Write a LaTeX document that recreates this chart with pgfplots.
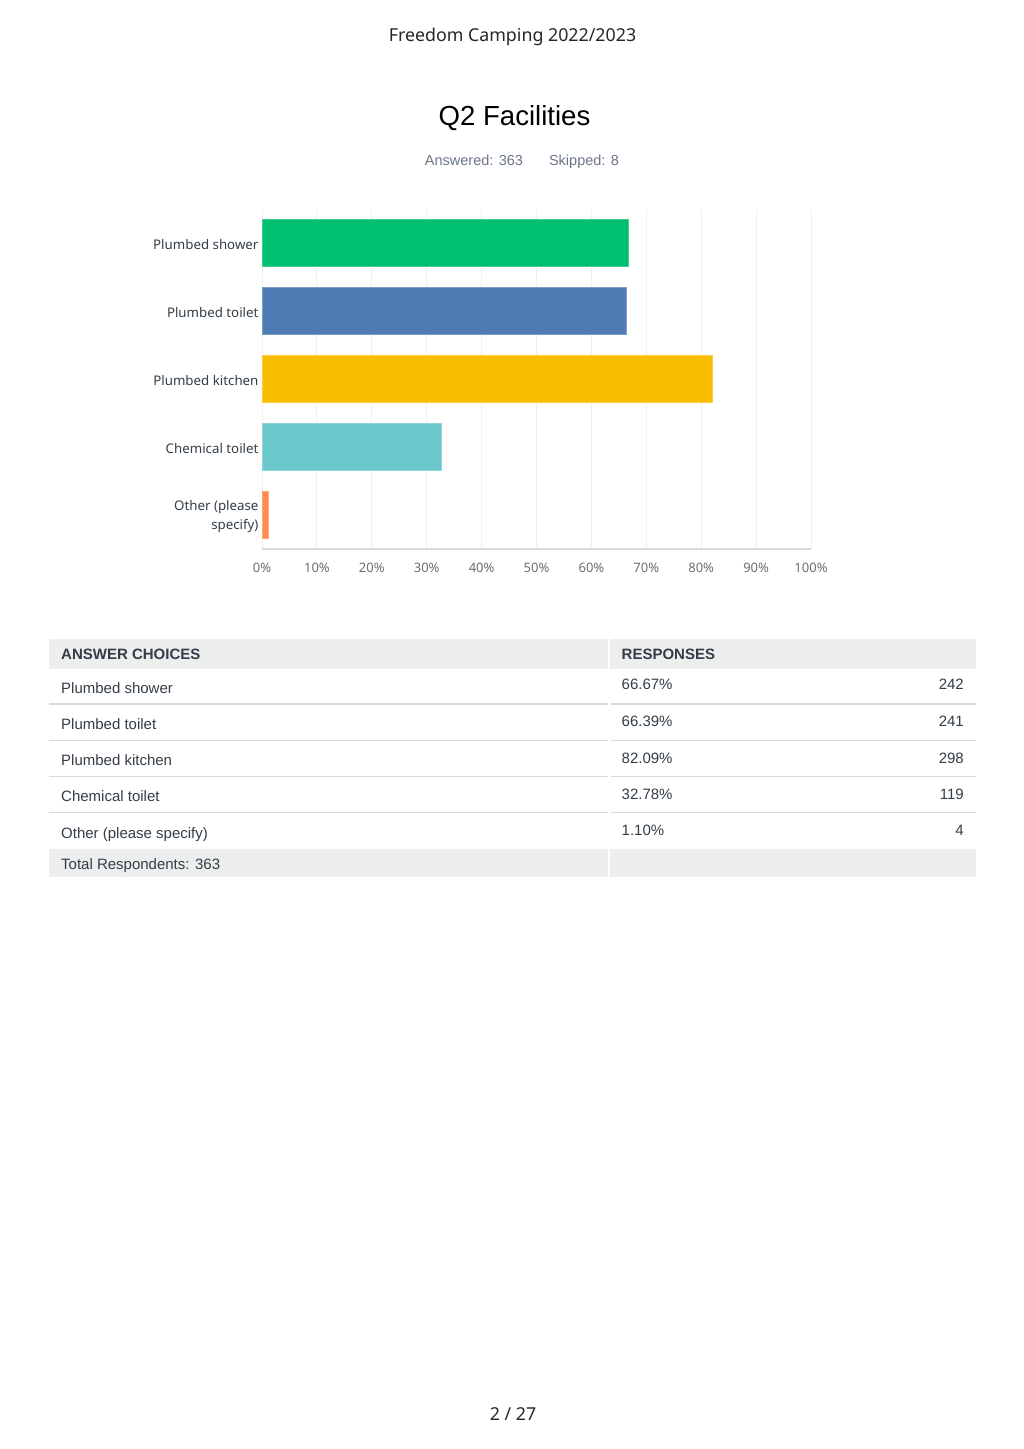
\documentclass[border=0pt]{standalone}
\usepackage{fontspec}
\setmainfont{Liberation Sans}
\newfontfamily\notosans{Noto Sans}
\usepackage{pgfplots}
\pgfplotsset{compat=1.18}

\definecolor{smgreen}{HTML}{00BF6F}
\definecolor{smblue}{HTML}{507CB6}
\definecolor{smyellow}{HTML}{F9BE00}
\definecolor{smteal}{HTML}{6BC8CD}
\definecolor{smorange}{HTML}{FF8B4F}
\definecolor{darktext}{HTML}{333E48}
\definecolor{subtext}{HTML}{6B7787}
\definecolor{ticktext}{HTML}{6A6F75}
\definecolor{gridc}{HTML}{F0F0F0}
\definecolor{axisc}{HTML}{D9D9D9}
\definecolor{bandc}{HTML}{EDEEEE}
\definecolor{rulec}{HTML}{DADADA}

\begin{document}
\begin{tikzpicture}[x=1pt,y=1pt]
\path[use as bounding box, fill=white] (0,0) rectangle (1024,1449);

% page header, title, footer
\node[anchor=base, font=\notosans\fontsize{17.8}{20}\selectfont, text=black!85]
  at (512.5,1407.3) {Freedom Camping 2022/2023};
\node[anchor=base, font=\fontsize{27.6}{30}\selectfont, text=black]
  at (514.5,1323.5) {Q2 Facilities};
\node[anchor=base, font=\fontsize{14.5}{17}\selectfont, text=subtext]
  at (474,1283.3) {Answered: 363};
\node[anchor=base, font=\fontsize{14.5}{17}\selectfont, text=subtext]
  at (584,1283.3) {Skipped: 8};
\node[anchor=base, font=\notosans\fontsize{17.8}{20}\selectfont, text=black!85]
  at (513,28) {2 / 27};

\begin{axis}[
    at={(262pt,900pt)}, anchor=south west,
    scale only axis, width=549pt, height=340pt,
    xmin=0, xmax=100, ymin=-0.5, ymax=4.5,
    y dir=reverse,
    xbar, bar width=46.5pt, bar shift=0pt,
    xtick={0,10,...,100},
    xticklabels={0\%,10\%,20\%,30\%,40\%,50\%,60\%,70\%,80\%,90\%,100\%},
    ytick={0,1,2,3,4},
    yticklabels={Plumbed shower,Plumbed toilet,Plumbed kitchen,Chemical toilet,{Other (please\\specify)}},
    yticklabel style={align=right, font=\notosans\fontsize{13.3}{18.5}\selectfont, text=darktext, yshift=-1.5pt},
    xticklabel style={font=\notosans\fontsize{13}{15}\selectfont, text=ticktext, yshift=-11pt},
    major tick length=0pt,
    xmajorgrids, grid style={draw=gridc, line width=1pt},
    axis line style={draw=none},
    clip=false,
]
\addplot[fill=smgreen, draw=smgreen!75!white, line width=1pt] coordinates {(66.67,0)};
\addplot[fill=smblue, draw=smblue!75!white, line width=1pt] coordinates {(66.39,1)};
\addplot[fill=smyellow, draw=smyellow!75!white, line width=1pt] coordinates {(82.09,2)};
\addplot[fill=smteal, draw=smteal!75!white, line width=1pt] coordinates {(32.78,3)};
\addplot[fill=smorange, draw=smorange!75!white, line width=1pt] coordinates {(1.10,4)};
\draw[axisc, line width=2pt] (axis cs:0,4.5) -- (axis cs:100,4.5);
\end{axis}

% table: bands and rules
\fill[bandc] (49,780) rectangle (608,809.7);
\fill[bandc] (610,780) rectangle (976,809.7);
\fill[bandc] (49,572.3) rectangle (608,600);
\fill[bandc] (610,572.3) rectangle (976,600);
\foreach \yy in {745,708.5,672.3,636.3} {
  \draw[rulec, line width=1.5pt] (49,\yy) -- (607.5,\yy);
  \draw[rulec, line width=1.5pt] (610.5,\yy) -- (976,\yy);
}

\begin{scope}[every node/.style={inner sep=0pt, font=\fontsize{15}{18}\selectfont, text=darktext}]
\node[anchor=base west, font=\bfseries\fontsize{15}{18}\selectfont] at (61,789.7) {ANSWER CHOICES};
\node[anchor=base west, font=\bfseries\fontsize{15}{18}\selectfont] at (621.5,789.7) {RESPONSES};
\node[anchor=base west] at (61,755) {Plumbed shower};
\node[anchor=base west] at (61,719) {Plumbed toilet};
\node[anchor=base west] at (61,683) {Plumbed kitchen};
\node[anchor=base west] at (61,647) {Chemical toilet};
\node[anchor=base west] at (61,610) {Other (please specify)};
\node[anchor=base west] at (61,579.7) {Total Respondents: 363};
\node[anchor=base west] at (621.5,759) {66.67\%};
\node[anchor=base west] at (621.5,722.3) {66.39\%};
\node[anchor=base west] at (621.5,685.7) {82.09\%};
\node[anchor=base west] at (621.5,649.7) {32.78\%};
\node[anchor=base west] at (621.5,613.3) {1.10\%};
\node[anchor=base east] at (964,759) {242};
\node[anchor=base east] at (964,722.3) {241};
\node[anchor=base east] at (964,685.7) {298};
\node[anchor=base east] at (964,649.7) {119};
\node[anchor=base east] at (964,613.3) {4};
\end{scope}
\end{tikzpicture}
\end{document}
